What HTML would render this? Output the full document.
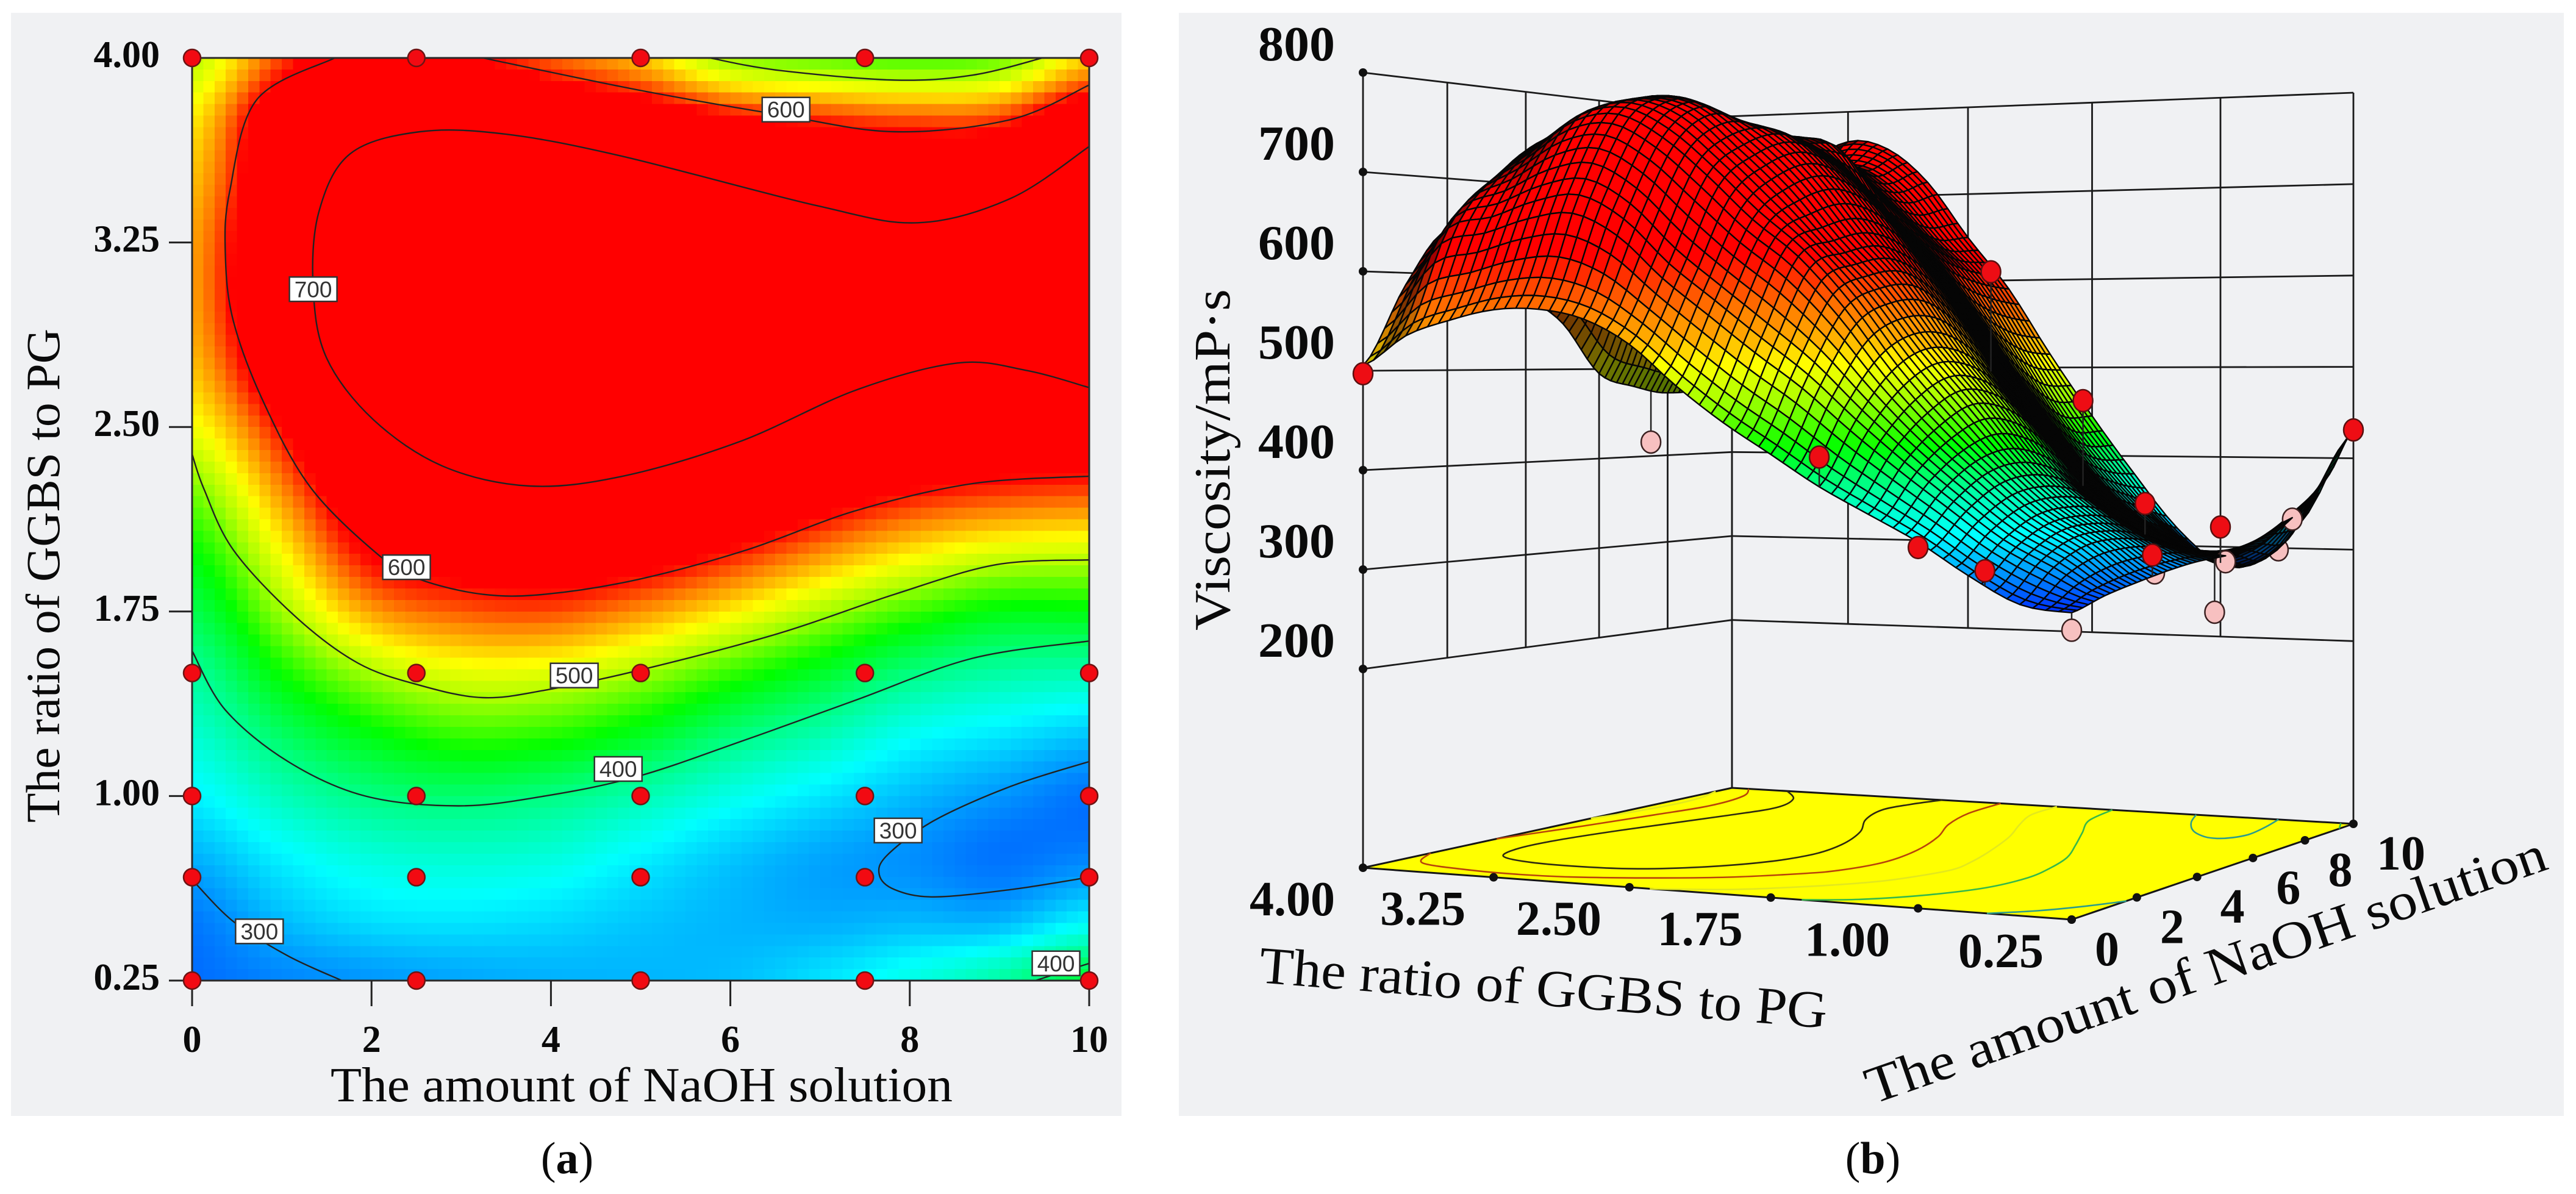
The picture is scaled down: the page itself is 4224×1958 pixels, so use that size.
<!DOCTYPE html>
<html lang="en">
<head>
<meta charset="utf-8">
<title>Viscosity response surface</title>
<style>
html,body{margin:0;padding:0;background:#fff;}
svg{display:block;}
text{font-family:"Liberation Serif",serif;fill:#0a0a0a;}
</style>
</head>
<body>
<svg id="fig" xmlns="http://www.w3.org/2000/svg" width="4224" height="1958" viewBox="0 0 4224 1958">
  <rect x="18" y="21" width="1821" height="1809" fill="#f0f1f3"/>
  <rect x="1933" y="21" width="2271" height="1809" fill="#f0f1f3"/>
  <g id="a-heat" shape-rendering="crispEdges"></g>
  <g id="a-lines"></g>
  <g id="a-axes"></g>
  <g id="a-labels"></g>
  <g id="a-points"></g>
  <text x="1052" y="1806" font-size="80" text-anchor="middle" textLength="1020" lengthAdjust="spacingAndGlyphs">The amount of NaOH solution</text>
  <text transform="translate(97,1349) rotate(-90)" font-size="78" textLength="810" lengthAdjust="spacingAndGlyphs">The ratio of GGBS to PG</text>
  <text x="930" y="1924" font-size="74" text-anchor="middle">(<tspan font-weight="bold">a</tspan>)</text>

  <g id="b-walls"></g>
  <g id="b-floor"></g>
  <g id="b-mesh"></g>
  <g id="b-points"></g>
  <g id="b-ticks"></g>
  <text transform="translate(2016,1034) rotate(-90)" font-size="84" textLength="560" lengthAdjust="spacingAndGlyphs">Viscosity/mP·s</text>
  <text transform="translate(2063,1611) rotate(4.6)" font-size="86" textLength="934" lengthAdjust="spacingAndGlyphs">The ratio of GGBS to PG</text>
  <text transform="translate(3071,1811) rotate(-19.2)" font-size="86" textLength="1176" lengthAdjust="spacingAndGlyphs">The amount of NaOH solution</text>
  <text x="3071" y="1924" font-size="74" text-anchor="middle">(<tspan font-weight="bold">b</tspan>)</text>
</svg>
<script>
// ---------- data ----------
const gridNaoh = [0,1,2,3,4,5,6,7,8,9,10];
const gridRatio = [4,3.75,3.5,3.25,3,2.75,2.5,2.25,2,1.75,1.5,1.25,1,0.75,0.5,0.25];
// viscosity at each NaOH amount, one row per ratio value
const viscAt400 = [505,588,645,610,580,550,495,480,472,482,545];
const viscAt375 = [535,645,695,718,665,640,610,595,585,590,650];
const viscAt350 = [550,655,725,752,735,720,700,675,660,665,735];
const viscAt325 = [560,670,755,775,782,770,760,745,715,720,765];
const viscAt300 = [560,675,760,783,783,768,760,750,740,730,755];
const viscAt275 = [550,650,735,770,762,752,745,745,708,700,715];
const viscAt250 = [525,605,695,730,745,735,715,680,660,645,650];
const viscAt225 = [485,568,650,685,700,690,665,632,607,595,590];
const viscAt200 = [450,531,612,630,640,630,603,570,540,520,515];
const viscAt175 = [420,495,560,581,585,565,535,500,468,445,445];
const viscAt150 = [390,452,498,520,518,497,465,435,402,385,380];
const viscAt125 = [365,412,445,465,460,438,405,380,350,335,320];
const viscAt100 = [340,375,400,408,400,380,355,335,315,298,282];
const viscAt075 = [310,340,360,365,360,340,320,305,295,282,290];
const viscAt050 = [285,315,332,335,330,320,312,308,312,310,340];
const viscAt025 = [279,290,298,305,310,312,316,332,355,385,431];
const viscRows = [viscAt400,viscAt375,viscAt350,viscAt325,viscAt300,viscAt275,viscAt250,viscAt225,viscAt200,viscAt175,viscAt150,viscAt125,viscAt100,viscAt075,viscAt050,viscAt025];

// contour traces as [NaOH, ratio] pairs
const contour600Main = [[1.59,4],[0.72,3.83],[0.42,3.46],[0.37,3.21],[0.46,2.93],[0.81,2.59],[1.33,2.25],[2.11,1.97],[2.54,1.88],[3.24,1.82],[3.93,1.82],[4.97,1.88],[6.18,2.0],[7.4,2.16],[8.7,2.27],[10,2.3]];
const contour700Main = [[10,3.64],[9.13,3.43],[8.09,3.33],[6.96,3.4],[4.8,3.6],[3.5,3.69],[2.54,3.7],[1.76,3.61],[1.41,3.37],[1.35,3.06],[1.5,2.78],[2.02,2.53],[2.8,2.34],[3.76,2.26],[4.8,2.3],[6.1,2.44],[7.4,2.65],[8.53,2.76],[9.3,2.73],[10,2.66]];
const contour600Top = [[3.24,4],[4.97,3.87],[6.53,3.77],[7.83,3.7],[9.13,3.75],[10,3.89]];
const contour500Top = [[5.77,4],[6.53,3.95],[7.83,3.91],[8.7,3.93],[9.48,4]];
const contour500Main = [[0,2.39],[0.13,2.25],[0.46,2.0],[1.15,1.73],[1.85,1.54],[2.54,1.45],[3.24,1.4],[3.93,1.43],[4.97,1.51],[6.53,1.66],[7.83,1.82],[8.96,1.94],[10,1.96]];
const contour400Main = [[0,1.59],[0.37,1.35],[1.07,1.14],[1.93,1.0],[2.97,0.96],[3.93,1.0],[4.97,1.08],[6.18,1.23],[7.4,1.39],[8.7,1.56],[10,1.63]];
const contour300Left = [[0,0.66],[0.46,0.49],[1.07,0.35],[1.67,0.25]];
const contour300Right = [[10,1.14],[9.13,1.04],[8.27,0.9],[7.75,0.76],[7.66,0.68],[7.83,0.62],[8.27,0.59],[9.13,0.62],[10,0.67]];
const contour400Corner = [[9.4,0.25],[10,0.32]];
const contourTraces = [contour600Main,contour700Main,contour600Top,contour500Top,contour500Main,contour400Main,contour300Left,contour300Right,contour400Corner];
const contourLevels = [600,700,600,500,500,400,300,300,400];

const labelText = ["600","700","600","500","400","300","300","400"];
const labelNaoh = [6.62,1.35,2.39,4.26,4.75,7.87,0.75,9.63];
const labelRatio = [3.79,3.06,1.93,1.49,1.11,0.86,0.45,0.32];

const designNaoh = [0,2.5,5,7.5,10];
const designRatio = [4,1.5,1,0.67,0.25];
const xTicks = [0,2,4,6,8,10];
const xTickText = ["0","2","4","6","8","10"];
const yTicks = [0.25,1,1.75,2.5,3.25,4];
const yTickText = ["0.25","1.00","1.75","2.50","3.25","4.00"];

const zTicks = [200,300,400,500,600,700,800];
const zTickText = ["200","300","400","500","600","700","800"];
const wallNaoh = [0,2,4,6,8,10];
const wallRatio = [4,3.25,2.5,1.75,1,0.25];
const wallRatioText = ["4.00","3.25","2.50","1.75","1.00","0.25"];

// actual runs above the surface
const redNaoh = [0,5,5,0,0,0,5,2.5,10,10];
const redRatio = [4,1.5,1,1.5,1,0.67,0.67,0.25,1,0.25];
const redVisc = [497,600,467,418,335,315,363,322,322,431];
// actual runs below the surface
const pinkNaoh = [7.5,0,7.5,7.5,10,5,7.5];
const pinkRatio = [4,0.25,0.67,0.25,0.67,0.25,1];
const pinkVisc = [416,263,241,341,298,306,281];

// colour ramp
const rampVisc = [230,345,400,450,500,530,570,605];
const rampR = [0,0,0,0,175,255,255,255];
const rampG = [0,255,255,255,255,255,130,0];
const rampB = [255,255,130,0,0,0,0,0];

// ---------- helpers ----------
const SVGNS = "http://www.w3.org/2000/svg";
function mk(parent, tag, attrs) {
  const el = document.createElementNS(SVGNS, tag);
  for (const k in attrs) el.setAttribute(k, attrs[k]);
  parent.appendChild(el);
  return el;
}
const $ = id => document.getElementById(id);
function cr(a,b,c,d,t){return 0.5*((2*b)+(-a+c)*t+(2*a-5*b+4*c-d)*t*t+(-a+3*b-3*c+d)*t*t*t);}
function viscosity(x, y) {
  const fx = Math.max(0, Math.min(gridNaoh.length-1.0001, x / (gridNaoh[1]-gridNaoh[0])));
  const fy = Math.max(0, Math.min(gridRatio.length-1.0001, (gridRatio[0]-y) / (gridRatio[0]-gridRatio[1])));
  const i = Math.floor(fx), j = Math.floor(fy);
  const cl = (v,n)=>Math.max(0,Math.min(n-1,v));
  const col = [];
  for (let m=-1;m<=2;m++){
    const r = viscRows[cl(j+m,viscRows.length)];
    const n = r.length;
    col.push(cr(r[cl(i-1,n)],r[cl(i,n)],r[cl(i+1,n)],r[cl(i+2,n)],fx-i));
  }
  return cr(col[0],col[1],col[2],col[3],fy-j);
}
function rampColor(v, shade) {
  let k = 0;
  if (v <= rampVisc[0]) k = 0;
  else if (v >= rampVisc[rampVisc.length-1]) k = rampVisc.length-2;
  else while (v > rampVisc[k+1]) k++;
  const t = Math.max(0, Math.min(1, (v-rampVisc[k])/(rampVisc[k+1]-rampVisc[k])));
  const s = shade === undefined ? 1 : shade;
  const c = a => Math.round((a[k]+(a[k+1]-a[k])*t)*s);
  return "rgb("+c(rampR)+","+c(rampG)+","+c(rampB)+")";
}
function smoothPath(pts) {
  let d = "M"+pts[0][0].toFixed(1)+" "+pts[0][1].toFixed(1);
  for (let i=0;i<pts.length-1;i++){
    const p0=pts[Math.max(0,i-1)],p1=pts[i],p2=pts[i+1],p3=pts[Math.min(pts.length-1,i+2)];
    const c1x=p1[0]+(p2[0]-p0[0])/6,c1y=p1[1]+(p2[1]-p0[1])/6,c2x=p2[0]-(p3[0]-p1[0])/6,c2y=p2[1]-(p3[1]-p1[1])/6;
    d+="C"+c1x.toFixed(1)+" "+c1y.toFixed(1)+" "+c2x.toFixed(1)+" "+c2y.toFixed(1)+" "+p2[0].toFixed(1)+" "+p2[1].toFixed(1);
  }
  return d;
}

// ---------- panel (a): contour map ----------
const aLeft=315,aRight=1786,aTop=95,aBottom=1608;
const ax = x => aLeft+(x-0)/(10-0)*(aRight-aLeft);
const ay = y => aBottom-(y-0.25)/(4-0.25)*(aBottom-aTop);
const heatCols=80, heatRows=80;
for (let c=0;c<heatCols;c++){
  for (let r=0;r<heatRows;r++){
    const x=10*(c+0.5)/heatCols, y=4-3.75*(r+0.5)/heatRows;
    const x0=ax(10*c/heatCols), x1=ax(10*(c+1)/heatCols), y0=ay(4-3.75*r/heatRows), y1=ay(4-3.75*(r+1)/heatRows);
    const cell=mk($("a-heat"),"rect",{x:x0.toFixed(1),y:y0.toFixed(1),width:(x1-x0+0.6).toFixed(1),height:(y1-y0+0.6).toFixed(1),fill:rampColor(viscosity(x,y))});
    
    
  }
}
contourTraces.forEach((tr,i)=>{
  const p=mk($("a-lines"),"path",{d:smoothPath(tr.map(q=>[ax(q[0]),ay(q[1])])),fill:"none",stroke:"#222",'stroke-width':2.4});
  
  
});
const frame=mk($("a-axes"),"rect",{x:aLeft,y:aTop,width:aRight-aLeft,height:aBottom-aTop,fill:"none",stroke:"#2a2a2a",'stroke-width':3});


xTicks.forEach((t,i)=>{
  const tick=mk($("a-axes"),"line",{x1:ax(t),x2:ax(t),y1:aBottom,y2:aBottom+42,stroke:"#222",'stroke-width':3});
  
  
  const lab=mk($("a-axes"),"text",{x:ax(t),y:1725,'font-size':62,'font-weight':'bold','text-anchor':'middle'});
  lab.textContent=xTickText[i];
  
  
});
yTicks.forEach((t,i)=>{
  if (t<4){
    const tick=mk($("a-axes"),"line",{x1:aLeft-38,x2:aLeft,y1:ay(t),y2:ay(t),stroke:"#222",'stroke-width':3});
    
    
  }
  const lab=mk($("a-axes"),"text",{x:262,y:ay(t)+15,'font-size':62,'font-weight':'bold','text-anchor':'end'});
  lab.textContent=yTickText[i];
  
  
});
labelText.forEach((t,i)=>{
  const cx=ax(labelNaoh[i]), cy=ay(labelRatio[i]);
  const box=mk($("a-labels"),"rect",{x:cx-39,y:cy-20,width:78,height:40,fill:"#fff",stroke:"#333",'stroke-width':2.5});
  
  
  const lab=mk($("a-labels"),"text",{x:cx,y:cy+13,'font-size':37,'text-anchor':'middle',style:'font-family:"Liberation Sans",sans-serif;fill:#333'});
  lab.textContent=t;
  
  
});
designNaoh.forEach(x=>designRatio.forEach(y=>{
  const pt=mk($("a-points"),"circle",{cx:ax(x),cy:ay(y),r:14,fill:"#f20a12",stroke:"#6d1414",'stroke-width':2.5});
  
  
}));

// ---------- panel (b): 3-D surface ----------
const P00=[3397,1508], P10=[3859,1351], P11=[2840,1292], P01=[2235,1423];
const zScale0=1.804;
const dx1=P10[0]-P11[0], dx2=P01[0]-P11[0], sx=P00[0]-P10[0]+P11[0]-P01[0];
const dy1=P10[1]-P11[1], dy2=P01[1]-P11[1], sy=P00[1]-P10[1]+P11[1]-P01[1];
const det=dx1*dy2-dx2*dy1;
const hg=(sx*dy2-dx2*sy)/det, hh=(dx1*sy-sx*dy1)/det;
const ha=P10[0]*(1+hg)-P00[0], hb=P01[0]*(1+hh)-P00[0];
const hd=P10[1]*(1+hg)-P00[1], he=P01[1]*(1+hh)-P00[1];
const uOf = x => x/10, vOf = y => (y-0.25)/3.75;
function depth(x,y){return 1+hg*uOf(x)+hh*vOf(y);}
function proj(x,y,z){
  const u=uOf(x), v=vOf(y), w=1+hg*u+hh*v;
  return [(ha*u+hb*v+P00[0])/w, (hd*u+he*v+P00[1]-z*zScale0)/w];
}
function line3(parent,a,b,stroke,width){
  return mk(parent,"line",{x1:a[0].toFixed(1),y1:a[1].toFixed(1),x2:b[0].toFixed(1),y2:b[1].toFixed(1),stroke:stroke,'stroke-width':width});
}
// walls
zTicks.forEach(z=>{
  const a=line3($("b-walls"),proj(0,4,z),proj(10,4,z),"#1a1a1a",2.8);
  
  
  const b=line3($("b-walls"),proj(10,4,z),proj(10,0.25,z),"#1a1a1a",2.8);
  
  
});
wallNaoh.forEach(x=>{
  const low=(x===0||x===10)?0:zTicks[0];
  const v=line3($("b-walls"),proj(x,4,low),proj(x,4,zTicks[zTicks.length-1]),"#1a1a1a",2.8);
  
  
});
wallRatio.forEach(y=>{
  const low=(y===0.25||y===4)?0:zTicks[0];
  const v=line3($("b-walls"),proj(10,y,low),proj(10,y,zTicks[zTicks.length-1]),"#1a1a1a",2.8);
  
  
});
zTicks.forEach(z=>{
  const p=proj(0,4,z);
  const d=mk($("b-walls"),"circle",{cx:p[0],cy:p[1],r:7,fill:"#111"});
  
  
});
// floor
const fc=[proj(0,4,0),proj(0,0.25,0),proj(10,0.25,0),proj(10,4,0)];
const floorPoly=mk($("b-floor"),"polygon",{points:fc.map(p=>p[0].toFixed(1)+","+p[1].toFixed(1)).join(" "),fill:"#ffff00",stroke:"#151515",'stroke-width':3});


const floorColorOf = {300:"#2c9c8c",400:"#36b84a",500:"#e3e81e",600:"#b8440a",700:"#2e2a10"};
contourTraces.forEach((tr,i)=>{
  const p=mk($("b-floor"),"path",{d:smoothPath(tr.map(q=>proj(q[0],q[1],0))),fill:"none",stroke:floorColorOf[contourLevels[i]],'stroke-width':2.6});
  
  
});
wallRatio.forEach(y=>{
  const p=proj(0,y,0);
  const d=mk($("b-floor"),"circle",{cx:p[0],cy:p[1],r:7,fill:"#111"});
  
  
});
wallNaoh.forEach(x=>{
  const p=proj(x,0.25,0);
  const d=mk($("b-floor"),"circle",{cx:p[0],cy:p[1],r:7,fill:"#111"});
  
  
});
// surface, painter-sorted from far to near
const meshN=60;
const lightU=-0.52, lightV=-0.78, lightZ=0.34;
const zNorm=600;
const drawList=[];
for (let i=0;i<meshN;i++){
  for (let j=0;j<meshN;j++){
    const xa=10*i/meshN, xb=10*(i+1)/meshN, ya=0.25+3.75*j/meshN, yb=0.25+3.75*(j+1)/meshN;
    const xm=(xa+xb)/2, ym=(ya+yb)/2;
    drawList.push({w:depth(xm,ym),kind:"quad",xa,xb,ya,yb,xm,ym});
  }
}
pinkNaoh.forEach((x,k)=>{
  drawList.push({w:depth(x,pinkRatio[k])+0.001,kind:"pink",k});
});
drawList.sort((p,q)=>q.w-p.w);
function shadeAt(x,y){
  const e=0.08;
  const dzu=(viscosity(x+e,y)-viscosity(x-e,y))/(uOf(x+e)-uOf(x-e))/zNorm;
  const dzv=(viscosity(x,y+e)-viscosity(x,y-e))/(vOf(y+e)-vOf(y-e))/zNorm;
  const len=Math.sqrt(dzu*dzu+dzv*dzv+1);
  const dot=(-dzu*lightU-dzv*lightV+lightZ)/len;
  return Math.max(0.45,Math.min(1,0.3+1.6*dot));
}
function surfaceTone(v){
  if (v>=530) return 555+(v-530)*0.6;
  if (v>380) return v+Math.min(25,(v-380)*0.5);
  if (v<340) return v-(340-v)*0.45;
  return v;
}
function polyArea(pts){
  let s=0;
  for (let i=0;i<pts.length;i++){
    const a=pts[i], b=pts[(i+1)%pts.length];
    s+=a[0]*b[1]-b[0]*a[1];
  }
  return Math.abs(s)/2;
}
drawList.forEach(it=>{
  if (it.kind==="quad"){
    const a=proj(it.xa,it.ya,viscosity(it.xa,it.ya));
    const b=proj(it.xb,it.ya,viscosity(it.xb,it.ya));
    const c=proj(it.xb,it.yb,viscosity(it.xb,it.yb));
    const d=proj(it.xa,it.yb,viscosity(it.xa,it.yb));
    const squeeze=Math.max(0.02,Math.min(1,(polyArea([a,b,c,d])-40)/70));
    const q=mk($("b-mesh"),"polygon",{
      points:[a,b,c,d].map(p=>p[0].toFixed(1)+","+p[1].toFixed(1)).join(" "),
      fill:rampColor(surfaceTone(viscosity(it.xm,it.ym)),shadeAt(it.xm,it.ym)*squeeze),
      stroke:"#050505",'stroke-width':2.4,'stroke-linejoin':'round'
    });
    
    
  } else {
    const k=it.k, x=pinkNaoh[k], y=pinkRatio[k];
    const p=proj(x,y,pinkVisc[k]), s=proj(x,y,viscosity(x,y));
    const stem=line3($("b-mesh"),p,s,"#222",2.5);
    
    
    const pt=mk($("b-mesh"),"ellipse",{cx:p[0],cy:p[1],rx:16,ry:18,fill:"#f7c0c0",stroke:"#3a2020",'stroke-width':2.5});
    
    
  }
});
redNaoh.forEach((x,k)=>{
  const y=redRatio[k];
  const p=proj(x,y,redVisc[k]), s=proj(x,y,viscosity(x,y));
  if (redVisc[k]-viscosity(x,y)>6){
    const stem=line3($("b-points"),p,s,"#222",2.5);
    
    
  }
  const pt=mk($("b-points"),"ellipse",{cx:p[0],cy:p[1],rx:16,ry:18,fill:"#ee0d14",stroke:"#5a1010",'stroke-width':2.5});
  
  
});
// tick labels
zTicks.forEach((z,i)=>{
  const p=proj(0,4,z);
  const t=mk($("b-ticks"),"text",{x:p[0]-46,y:p[1]-20,'font-size':80,'font-weight':'bold','text-anchor':'end',textLength:126,lengthAdjust:'spacingAndGlyphs'});
  t.textContent=zTickText[i];
  
  
});
wallRatio.forEach((y,i)=>{
  const p=proj(0,y,0);
  const t=mk($("b-ticks"),"text",{x:p[0]-116,y:p[1]+78,'font-size':80,'font-weight':'bold','text-anchor':'middle'});
  t.textContent=wallRatioText[i];
  
  
});
wallNaoh.forEach((x,i)=>{
  const p=proj(x,0.25,0);
  const t=mk($("b-ticks"),"text",{x:p[0]+38,y:p[1]+75,'font-size':80,'font-weight':'bold'});
  t.textContent=xTickText[i];
  
  
});
</script>
</body>
</html>
